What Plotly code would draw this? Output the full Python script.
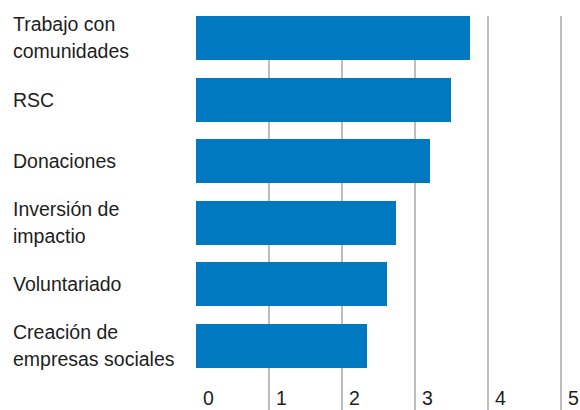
import plotly.graph_objects as go

# Categories (top to bottom) and their scores
categories = [
    "Trabajo con comunidades",
    "RSC",
    "Donaciones",
    "Inversión de impactio",
    "Voluntariado",
    "Creación de empresas sociales",
]
# How each label is broken over lines
label_lines = [
    ["Trabajo con", "comunidades"],
    ["RSC"],
    ["Donaciones"],
    ["Inversión de", "impactio"],
    ["Voluntariado"],
    ["Creación de", "empresas sociales"],
]
values = [3.75, 3.49, 3.21, 2.74, 2.62, 2.34]
tick_vals = [0, 1, 2, 3, 4, 5]
tick_text = ["0", "1", "2", "3", "4", "5"]

BLUE = "#0079c1"
GRID = "#bdbdbd"
TEXT = "#1e1e1e"
FONT = "Liberation Sans, Arial, sans-serif"
FS = 19.5
LINE_PITCH = 27

W, H = 580, 410
L, R, T, B = 196, 0, 16, 0
BAR_W = 0.714

positions = list(range(len(categories)))

fig = go.Figure(
    go.Bar(
        x=values,
        y=positions,
        orientation="h",
        width=BAR_W,
        marker=dict(color=BLUE, line=dict(width=0)),
        hoverinfo="skip",
        text=categories,
        textposition="none",
    )
)

annotations = []
# Category labels, left-aligned at the page edge, centred on each bar
for pos, lines in zip(positions, label_lines):
    n = len(lines)
    for i, line in enumerate(lines):
        annotations.append(
            dict(
                text=line,
                xref="paper",
                x=-(L - 11) / (W - L - R),
                xanchor="left",
                yref="y",
                y=pos,
                yanchor="middle",
                yshift=-(i - (n - 1) / 2) * LINE_PITCH,
                showarrow=False,
                font=dict(family=FONT, size=FS, color=TEXT),
            )
        )

# Value axis labels sit inside the plot, just right of each gridline
for v, t in zip(tick_vals, tick_text):
    annotations.append(
        dict(
            text=t,
            xref="x",
            x=v,
            xanchor="left",
            xshift=6,
            yref="paper",
            y=0,
            yanchor="bottom",
            yshift=0,
            borderpad=0,
            showarrow=False,
            font=dict(family=FONT, size=FS, color=TEXT),
        )
    )

px_per_row = 61.6
top = -BAR_W / 2
bottom = top + (H - T - B) / px_per_row

fig.update_layout(
    width=W,
    height=H,
    margin=dict(l=L, r=R, t=T, b=B, pad=0),
    paper_bgcolor="white",
    plot_bgcolor="white",
    showlegend=False,
    bargap=0,
    annotations=annotations,
    xaxis=dict(
        range=[0, (W - L - R) / 73.0],
        tickvals=tick_vals,
        showticklabels=False,
        showgrid=True,
        gridcolor=GRID,
        gridwidth=1.5,
        zeroline=False,
        showline=False,
        fixedrange=True,
    ),
    yaxis=dict(
        range=[bottom, top],
        showticklabels=False,
        showgrid=False,
        zeroline=False,
        showline=False,
        fixedrange=True,
    ),
)

fig.write_html("out.html")
